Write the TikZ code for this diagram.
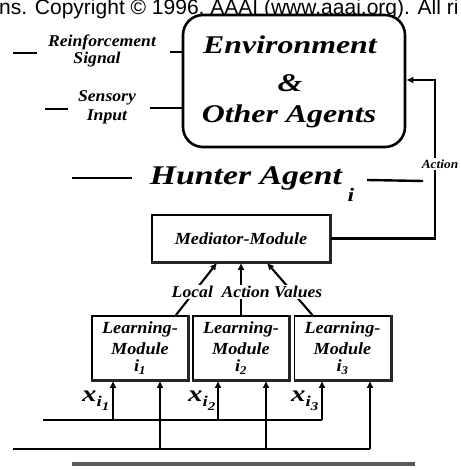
\documentclass[tikz,border=0pt]{standalone}
\usepackage{fontspec}
\setmainfont{Liberation Serif}
\newfontfamily\wide{Liberation Serif}[FakeStretch=1.25]
\newfontfamily\lab{Liberation Serif}[FakeStretch=1.07]
\newfontfamily\cpfont{Liberation Sans}
\usetikzlibrary{arrows.meta}
\begin{document}
\begin{tikzpicture}[x=1pt,y=-1pt,
  bi/.style={font=\wide\fontsize{#1}{#1}\selectfont\bfseries\itshape},
  li/.style={font=\lab\fontsize{#1}{#1}\selectfont\bfseries\itshape},
  wire/.style={line width=2.1pt},
  arr/.style={wire,-{Latex[length=7pt,width=7pt]}},
  box/.style={draw,line width=1.7pt,inner sep=0pt,fill=white},
  shadow/.style={line width=2.8pt,black!85},
]
\useasboundingbox (0,0) rectangle (460,470);
\fill[white] (0,0) rectangle (460,470);
\begin{scope}
\clip (0,0) rectangle (460,470);
\node[anchor=base west,font=\cpfont\fontsize{21}{21}\selectfont,inner sep=0pt] (cp) at (-1,15) {ns. Copyright © 1996, AAAI (www.aaai.org). All ri};
\end{scope}

% Environment box
\node[box,rounded corners=20pt,line width=2.6pt,minimum width=222pt,minimum height=132pt] (env) at (294,81) {};
\node[bi=25.5,anchor=base,inner sep=0pt] (envA) at (290,54) {Environment};
\node[bi=25.5,anchor=base,inner sep=0pt] (envB) at (290,92) {\&};
\node[bi=25.5,anchor=base,inner sep=0pt] (envC) at (289,123) {Other Agents};

% left inputs
\node[li=16.5,anchor=base,inner sep=0pt] (rs1) at (102,47) {Reinforcement};
\node[li=16.5,anchor=base,inner sep=0pt] (rs2) at (97,64) {Signal};
\node[li=16.5,anchor=base,inner sep=0pt] (si1) at (107,102) {Sensory};
\node[li=16.5,anchor=base,inner sep=0pt] (si2) at (107,121) {Input};
\coordinate (rA) at (13,53); \coordinate (rB) at (37,53);
\coordinate (rC) at (170,52);
\coordinate (sA) at (45,109); \coordinate (sB) at (68,109);
\coordinate (sC) at (150,108);
\draw[wire] (rA) -- (rB);
\draw[wire] (rC) -- (rC -| env.west);
\draw[wire] (sA) -- (sB);
\draw[wire] (sC) -- (sC -| env.west);

% Hunter Agent title
\node[bi=27,anchor=base,inner sep=0pt] (hunt) at (246,184) {Hunter Agent};
\node[bi=19,anchor=base,inner sep=0pt] (hi) at (351,201) {i};
\coordinate (hA) at (72,178); \coordinate (hB) at (132,178);
\coordinate (hC) at (367,180); \coordinate (hD) at (423,181);
\draw[line width=2.4pt] (hA) -- (hB);
\draw[line width=2.4pt] (hC) -- (hD);

% Mediator
\node[box,minimum width=178pt,minimum height=47pt,li=17] (med) at (241,238.5) {Mediator-Module};
\draw[shadow] (med.north east) -- (med.south east) -- (med.south west);

% Action feedback
\coordinate (acttop) at (435,80);
\draw[arr] (med.east) -| (acttop) -- (acttop -| env.east);
\node[li=12.5,fill=white,inner sep=1.5pt] (act) at (440,164) {Action};

% Learning modules
\foreach \n/\x/\s in {1/140/1,2/241/2,3/342.5/3}{
  \node[box,minimum width=96pt,minimum height=64pt,align=center,li=17] (lm\n) at (\x,348)
    {Learning-\\[4pt]Module\\[0pt]i\textsubscript{\s}};
  \draw[shadow] (lm\n.north east) -- (lm\n.south east) -- (lm\n.south west);
}

% local action values
\draw[arr] ([xshift=-13pt]lm1.north east) -- ([xshift=-24pt]med.south);
\draw[arr] (lm2.north) -- (med.south);
\draw[arr] ([xshift=-30pt]lm3.north) -- ([xshift=26pt]med.south);
\node[li=16.5,fill=white,inner sep=1pt] (lav) at (247,292) {Local\ \ Action Values};

% input buses
\coordinate (b1s) at (43,420); \coordinate (b1e) at (322,420);
\coordinate (b2s) at (13,449); \coordinate (b2e) at (370,449);
\draw[wire] (b1s) -- (b1e);
\draw[wire] (b2s) -- (b2e);
\coordinate (p1) at (113,420); \coordinate (p3) at (218,420); \coordinate (p5) at (322,420);
\coordinate (p2) at (160,449); \coordinate (p4) at (266,449); \coordinate (p6) at (370,449);
\draw[arr] (p1) -- (p1 |- lm1.south);
\draw[arr] (p2) -- (p2 |- lm1.south);
\draw[arr] (p3) -- (p3 |- lm2.south);
\draw[arr] (p4) -- (p4 |- lm2.south);
\draw[arr] (p5) -- (p5 |- lm3.south);
\draw[arr] (p6) -- (p6 |- lm3.south);

% x labels
\foreach \n/\x in {1/82,2/188,3/291}{
  \node[anchor=base west,inner sep=0pt,bi=23] (x\n) at (\x,401)
    {x\raisebox{-5pt}{\fontsize{15}{15}\selectfont i\raisebox{-4pt}{\fontsize{12}{12}\selectfont \n}}};
}

% bottom bar
\coordinate (gA) at (72,464); \coordinate (gB) at (415,464);
\draw[line width=4pt,black!65] (gA) -- (gB);
\end{tikzpicture}
\end{document}
